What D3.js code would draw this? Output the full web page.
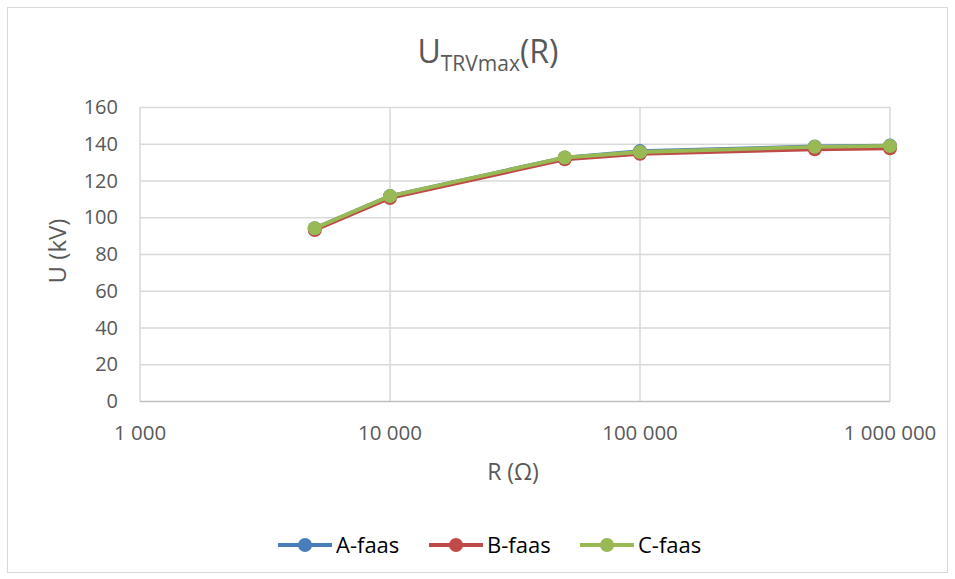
<!DOCTYPE html>
<html>
<head>
<meta charset="utf-8">
<script src="https://cdn.jsdelivr.net/npm/d3@7/dist/d3.min.js"></script>
<style>
  body { margin: 0; background: #fff; }
  text { font-family: "Open Sans", sans-serif; fill: #595959; }
</style>
</head>
<body>
<svg width="955" height="579"></svg>
<script>
// data
var resistances = [5000, 10000, 50000, 100000, 500000, 1000000];
var aPhase = [94, 111.5, 132.5, 136, 138.5, 139];
var bPhase = [93, 110.5, 131.5, 134.5, 137, 137.5];
var cPhase = [94, 111.5, 132.5, 135.5, 138.3, 138.8];
var seriesNames = ["A-faas", "B-faas", "C-faas"];
var seriesColors = ["#4a7ebb", "#be4b48", "#98b954"];
var xTicks = [1000, 10000, 100000, 1000000];
var yTicks = [0, 20, 40, 60, 80, 100, 120, 140, 160];

var svg = d3.select("svg");

svg.append("rect")
    .attr("x", 7.5).attr("y", 7.5)
    .attr("width", 940).attr("height", 565)
    .attr("fill", "#fff")
    .attr("stroke", "#d9d9d9");

var x = d3.scaleLog().domain([1000, 1000000]).range([140, 890]);
var y = d3.scaleLinear().domain([0, 160]).range([401, 107]);

var fmt = function(d) { return d3.format(",")(d).replace(/,/g, " "); };

// horizontal gridlines
svg.append("g").selectAll("line")
    .data(yTicks.slice(1))
    .enter().append("line")
    .attr("x1", 140).attr("x2", 890)
    .attr("y1", function(d) { return y(d) + 0.5; })
    .attr("y2", function(d) { return y(d) + 0.5; })
    .attr("stroke", "#d9d9d9").attr("stroke-width", 1.5);

// vertical gridlines
svg.append("g").selectAll("line")
    .data(xTicks)
    .enter().append("line")
    .attr("x1", function(d) { return x(d); })
    .attr("x2", function(d) { return x(d); })
    .attr("y1", 107).attr("y2", 401)
    .attr("stroke", "#d9d9d9").attr("stroke-width", 1.5);

// x axis line
svg.append("line")
    .attr("x1", 140).attr("x2", 890)
    .attr("y1", 401.5).attr("y2", 401.5)
    .attr("stroke", "#bfbfbf").attr("stroke-width", 1.5);

// y tick labels
svg.append("g").selectAll("text")
    .data(yTicks)
    .enter().append("text")
    .attr("x", 118)
    .attr("y", function(d) { return y(d); })
    .attr("dy", "0.36em")
    .attr("text-anchor", "end")
    .style("font-size", "20px")
    .text(function(d) { return d; });

// x tick labels
svg.append("g").selectAll("text")
    .data(xTicks)
    .enter().append("text")
    .attr("x", function(d) { return x(d); })
    .attr("y", 440)
    .attr("text-anchor", "middle")
    .style("font-size", "20.5px")
    .text(fmt);

// title
var title = svg.append("text")
    .attr("x", 488).attr("y", 63)
    .attr("text-anchor", "middle")
    .style("font-size", "32px");
title.append("tspan").text("U");
title.append("tspan").attr("dy", 8).style("font-size", "21px").text("TRVmax");
title.append("tspan").attr("dy", -8).text("(R)");

// axis titles
svg.append("text")
    .attr("transform", "translate(57,251) rotate(-90)")
    .attr("text-anchor", "middle")
    .attr("dy", "0.36em")
    .style("font-size", "24px")
    .text("U (kV)");

svg.append("text")
    .attr("x", 513).attr("y", 480)
    .attr("text-anchor", "middle")
    .style("font-size", "23px")
    .text("R (Ω)");

// series
var series = [aPhase, bPhase, cPhase].map(function(vals, i) {
    return { name: seriesNames[i], color: seriesColors[i],
             values: vals.map(function(v, j) { return { r: resistances[j], u: v }; }) };
});

var line = d3.line()
    .x(function(d) { return x(d.r); })
    .y(function(d) { return y(d.u); });

var sg = svg.append("g").selectAll("g")
    .data(series)
    .enter().append("g");

sg.append("path")
    .attr("d", function(d) { return line(d.values); })
    .attr("fill", "none")
    .attr("stroke", function(d) { return d.color; })
    .attr("stroke-width", 3.8)
    .attr("stroke-linejoin", "round");

sg.selectAll("circle")
    .data(function(d) { return d.values.map(function(v) { return { v: v, color: d.color }; }); })
    .enter().append("circle")
    .attr("cx", function(d) { return x(d.v.r); })
    .attr("cy", function(d) { return y(d.v.u); })
    .attr("r", 7)
    .attr("fill", function(d) { return d.color; });

// legend
var legend = svg.append("g").selectAll("g")
    .data(series)
    .enter().append("g")
    .attr("transform", function(d, i) { return "translate(" + (278 + i * 151) + ",545)"; });

legend.append("line")
    .attr("x1", 0).attr("x2", 54)
    .attr("stroke", function(d) { return d.color; })
    .attr("stroke-width", 3.8);

legend.append("circle")
    .attr("cx", 27).attr("r", 7)
    .attr("fill", function(d) { return d.color; });

legend.append("text")
    .attr("x", 58).attr("dy", "0.36em")
    .style("font-size", "22px")
    .style("fill", "#000")
    .text(function(d) { return d.name; });
</script>
</body>
</html>
